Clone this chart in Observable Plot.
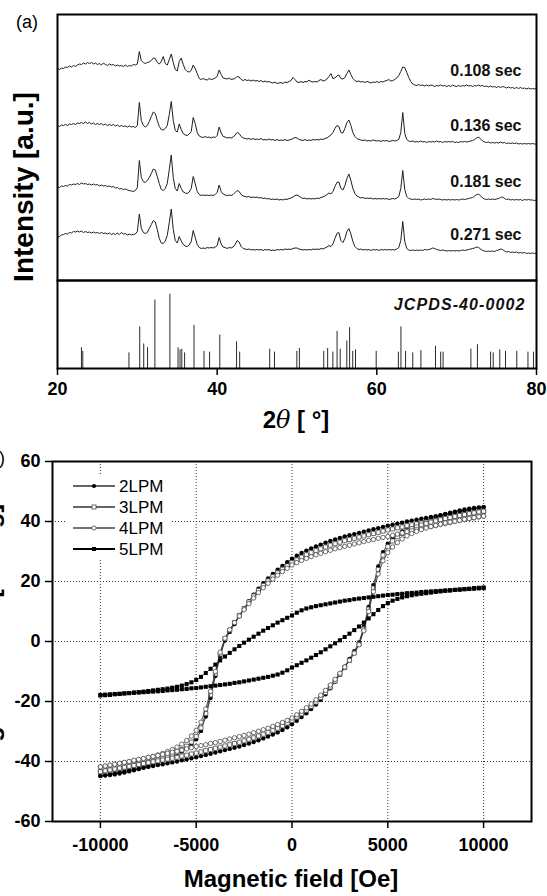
<!DOCTYPE html>
<html><head><meta charset="utf-8">
<script src="https://cdn.jsdelivr.net/npm/d3@7"></script>
<script src="https://cdn.jsdelivr.net/npm/@observablehq/plot@0.6"></script>
<style>
body{margin:0;background:#fff;}
#fig{position:relative;width:547px;height:896px;overflow:hidden;background:#fff;}
</style></head><body><div id="fig"></div>
<script>
// ---------- Panel (a): XRD ----------
const twoTheta = [
20,20.25,20.5,20.75,21,21.25,21.5,21.75,22,22.25,22.5,22.75,23,23.25,23.5,23.75,
24,24.25,24.5,24.75,25,25.25,25.5,25.75,26,26.25,26.5,26.75,27,27.25,27.5,27.75,
28,28.25,28.5,28.75,29,29.25,29.5,29.75,30,30.25,30.5,30.75,31,31.25,31.5,31.75,
32,32.25,32.5,32.75,33,33.25,33.5,33.75,34,34.25,34.5,34.75,35,35.25,35.5,35.75,
36,36.25,36.5,36.75,37,37.25,37.5,37.75,38,38.25,38.5,38.75,39,39.25,39.5,39.75,
40,40.25,40.5,40.75,41,41.25,41.5,41.75,42,42.25,42.5,42.75,43,43.25,43.5,43.75,
44,44.25,44.5,44.75,45,45.25,45.5,45.75,46,46.25,46.5,46.75,47,47.25,47.5,47.75,
48,48.25,48.5,48.75,49,49.25,49.5,49.75,50,50.25,50.5,50.75,51,51.25,51.5,51.75,
52,52.25,52.5,52.75,53,53.25,53.5,53.75,54,54.25,54.5,54.75,55,55.25,55.5,55.75,
56,56.25,56.5,56.75,57,57.25,57.5,57.75,58,58.25,58.5,58.75,59,59.25,59.5,59.75,
60,60.25,60.5,60.75,61,61.25,61.5,61.75,62,62.25,62.5,62.75,63,63.25,63.5,63.75,
64,64.25,64.5,64.75,65,65.25,65.5,65.75,66,66.25,66.5,66.75,67,67.25,67.5,67.75,
68,68.25,68.5,68.75,69,69.25,69.5,69.75,70,70.25,70.5,70.75,71,71.25,71.5,71.75,
72,72.25,72.5,72.75,73,73.25,73.5,73.75,74,74.25,74.5,74.75,75,75.25,75.5,75.75,
76,76.25,76.5,76.75,77,77.25,77.5,77.75,78,78.25,78.5,78.75,79,79.25,79.5,79.75,
80];

const xrd0108 = [
27,26,27.5,27,28.5,28,29.5,28.5, 30,29,30.5,31.5,31,32.5,31.5,33,
32,33,31.5,32.5,31,32,30.5,32.5, 31,30,31.5,30.5,31,29.5,30.5,29.5,
30,29,30.5,29,30,29.5,31,30.5, 31.5,44,35,33,32,33,33.5,35,
37.5,37,33,31.5,34,39,32,30.5, 36,41.5,33,26,24.5,34,37.5,31,
26,24,23.5,25,30.5,27,22,17, 16,17,16,15.5,17,16,16.5,17.5,
19,25.5,21,17.5,17,16.5,17.5,16, 16.5,17,19,18.5,16,15,16,15,
15.5,14.5,15.5,14.5,15,14,15,13.5, 14.5,13.5,14,13,12.5,13.5,12,12.5,
13,12,13.5,13,14,15,18,16, 13.5,13,14,13,14,13.5,15.5,14,
13.5,14,13.5,15,16,14.5,15,16.5, 19,22,17,17.5,19.5,20.5,17,16.5,
18,22,25.5,21,17,15,14,14.5, 13.5,14,13,14,13.5,12.5,13.5,13,
14,13,14,13.5,14.5,15,16,14.5, 15,16,17.5,20,24,28.5,28,23,
18,14,11.5,10.5,10,11,10,10.5, 9.5,10.5,9.5,10.5,10,9,10,9.5,
10.5,9.5,10,9,10,9,10.5,9.5, 9,10,9,10,9.5,10.5,9.5,10,
9,10,9.5,10.5,9.5,10,9,9.5, 8.5,9.5,8.5,9,8,9,8,9,
8.5,7.5,8.5,7.5,8,7,8,7, 8,7,7.5,6.5,7.5,6.5,7,6.5,
7];
const xrd0136 = [
25,24,25.5,25,26,25,26.5,26, 27,26,27.5,27,28,27,28.5,27,
28,26.5,27.5,26,27,26,27,25.5, 26.5,25,26,25,26,24.5,25.5,24,
25,24,24.5,23.5,24.5,23.5,24,23, 25,48,30,25,23.5,25,29,34,
38.5,37,30,24,21,20.5,22,25, 36,49,30,20,18.5,26.5,21,17,
15.5,15,16.5,19,33,27,18,14.5, 13.5,13,14,13,13.5,12.5,13.5,13,
15,23.5,17.5,14,13.5,12.5,13,12.5, 13.5,15.5,18,17,14,12.5,12,11.5,
12,11,12,11,11.5,11,12,10.5, 11,10.5,11.5,10.5,11,10,11,10,
10.5,10,11,10,10.5,11,12,13, 12.5,11,10.5,10,11,10,10.5,10,
11,10.5,11,10.5,11.5,11,12,12.5, 14,15.5,18,22,25,24,18,17.5,
22,28,30.5,25,18,14,12,11, 10.5,10,10.5,9.5,10,9.5,10.5,10,
9.5,10,9,10,9.5,10,9,9.5, 10,9.5,10,11,18,38,17,11,
9.5,9,9.5,8.5,9,8.5,9.5,8.5, 9,8,9,8.5,9,8.5,9.5,8.5,
9,8,9,8.5,9,8.5,9,8, 8.5,8,9,8.5,9,8.5,9,9.5,
10,11,12.5,13.5,11.5,9.5,8.5,8, 8.5,7.5,8,7.5,8,7.5,8.5,7.5,
8,7,7.5,7,7.5,7,7.5,6.5, 7,6.5,7,6.5,7,6.5,7,6.5,
6.5];
const xrd0181 = [
18.5,18,19.5,19,20,19.5,21,20.5, 21.5,21,22,21,22.5,21.5,22,21,
21.5,20.5,21.5,20.5,21,19.5,20.5,19.5, 20,19,19.5,18.5,19,17.5,18,16.5,
17,16,16.5,15.5,15,14.5,14,15, 18,45,28,24,23,25,28,32,
36.5,35.5,29,22,16,15,17,22, 36,50.5,28,17,14.5,22,17,13.5,
12.5,12,13.5,17,29,22,14,11, 10,10.5,10,10.5,10,10.5,10,11,
13,20.5,14,11.5,10.5,10,10.5,10, 11,13,15,14,11,9.5,9,8.5,
9,8,8.5,8,8.5,7.5,8,7, 7.5,6.5,7,6,6.5,6,6.5,5.5,
6,5.5,6.5,6,7,7.5,8.5,10, 10.5,9.5,8,7,7.5,6.5,7,6.5,
7,6.5,7.5,7,8,8.5,9.5,11, 12.5,11.5,14,19,23,23.5,17,15.5,
20,27,31.5,25,17,12,9.5,8.5, 7.5,8,7,7.5,7,7.5,6.5,7,
6.5,7,6.5,7,6.5,7,6,6.5, 7,6.5,7.5,9,17,35,16,9,
7,6.5,6,6.5,6,6.5,5.5,6, 6.5,6,6.5,6,7,6.5,6,6.5,
6,5.5,6,5.5,6,5.5,6,5.5, 6,5.5,6,6.5,6,6.5,7,7.5,
8,9.5,11,11.5,9.5,7.5,6.5,6, 6.5,6,6.5,6,6.5,7,8,8.5,
7,6,6.5,5.5,6,5.5,6,5.5, 6,5,6,5.5,6,5.5,5.5,5,
5.5];
const xrd0271 = [
22.5,23,24.5,25,26,25.5,27,26.5, 28,27.5,28.5,27.5,28.5,27,28,27,
27.5,26.5,27.5,26.5,27,26,27,26, 26.5,25.5,26.5,25,26,25,26.5,25,
27,25.5,26,24.5,25.5,24.5,25,25.5, 28,45.5,31,27,26,27,31,35,
39,37.5,30,21,16.5,16,18.5,24, 37,50.5,30,19,16.5,23,18.5,15,
13.5,13,14.5,18,29,22,15,12, 11,11.5,11,12,11.5,12,11.5,12.5,
14,22,15.5,12.5,12,11,12,11.5, 12.5,15,19,17.5,13,11,10.5,10,
10.5,9.5,10,9.5,10,9.5,10,9, 10,9.5,10,9,9.5,9,10,9.5,
10,9.5,10.5,10,10.5,10,11,11.5, 11.5,10.5,10,9.5,10,9.5,10,9.5,
10.5,10,10.5,10,11,10.5,11.5,12.5, 14,13,15.5,21,26,27,19,17,
21,28,31,25.5,18,13,11,10, 10.5,9.5,10,9.5,10,9,10,9.5,
10,9,10,9.5,10,9.5,10,9.5, 10,9.5,10.5,12,19,38,18,11,
9.5,9,9.5,9,9.5,9,9.5,9, 10,9.5,10,10.5,11.5,11,10,9.5,
9,9.5,9,8.5,9,8.5,9,8.5, 9,8.5,9,9.5,9,9.5,10,10.5,
11,11.5,12.5,12,10.5,9,8.5,8, 8.5,8,8.5,8,9,9.5,10.5,10,
8.5,7.5,8,7,7.5,7,7.5,6.5, 7,6.5,7,6,6.5,6,6.5,6,
6.5];
const sampleLabels = ["0.108 sec", "0.136 sec", "0.181 sec", "0.271 sec"];

const jcpdsTheta = [23.0,23.17,28.95,30.3,30.8,31.28,32.2,34.08,35.1,35.35,
35.57,35.92,37.1,38.35,39.05,40.33,42.43,42.82,46.58,47.18,
49.98,50.3,53.35,53.84,54.49,55.02,55.41,56.24,56.59,56.98,
57.33,59.92,62.7,63.02,63.6,64.5,65.52,67.35,68.0,68.3,
71.78,72.6,74.25,74.58,75.4,76.12,77.53,78.93,79.62];
const jcpdsIntensity = [28,23,21,56,33,28,92,100,28,25,
26,21,58,23,22,45,36,22,26,22,
23,27,23,27,22,50,26,37,55,23,
25,23,22,56,23,21,24,30,22,22,
26,32,22,21,25,23,23,22,22];
const jcpdsLabel = "JCPDS-40-0002";
const xrdTicks = [20, 40, 60, 80];

// ---------- Panel (b): M-H loops ----------
const fieldOe = [
-10000,-9750,-9500,-9250,-9000,-8750,-8500,-8250,
-8000,-7750,-7500,-7250,-7000,-6750,-6500,-6250,
-6000,-5750,-5500,-5250,-5000,-4750,-4500,-4250,
-4000,-3750,-3500,-3250,-3000,-2750,-2500,-2250,
-2000,-1750,-1500,-1250,-1000,-750,-500,-250,
0,250,500,750,1000,1250,1500,1750,
2000,2250,2500,2750,3000,3250,3500,3750,
4000,4250,4500,4750,5000,5250,5500,5750,
6000,6250,6500,6750,7000,7250,7500,7750,
8000,8250,8500,8750,9000,9250,9500,9750,
10000];
// "down" = branch measured while the field sweeps down from +10 kOe (upper branch);
// "up" = branch measured while the field sweeps up from -10 kOe (lower branch). Both in fieldOe order.
const m2LPMdown = [-44.8,-44.7,-44.5,-44.3,-44.0,-43.7,-43.3,-42.9,-42.5,-42.0,-41.5,-41.0,-40.4,-39.8,-39.1,-38.4,-37.6,-36.7,-35.7,-34.4,-32.6,-29.8,-25.0,-18.8,-11.5,-5.0,0.3,3.2,5.8,8.4,11.0,13.4,15.6,17.6,19.4,21.0,22.5,23.9,25.2,26.4,27.6,28.6,29.5,30.3,31.0,31.7,32.3,32.9,33.5,34.0,34.5,35.0,35.4,35.8,36.2,36.6,37.0,37.4,37.8,38.2,38.6,38.9,39.3,39.6,40.0,40.3,40.6,40.9,41.2,41.5,41.8,42.1,42.4,42.7,43.0,43.3,43.6,43.9,44.2,44.5,44.8];
const m2LPMup = [-44.8,-44.5,-44.2,-43.9,-43.6,-43.3,-43.0,-42.7,-42.4,-42.1,-41.8,-41.5,-41.2,-40.9,-40.6,-40.3,-40.0,-39.6,-39.3,-38.9,-38.6,-38.2,-37.8,-37.4,-37.0,-36.6,-36.2,-35.8,-35.4,-35.0,-34.5,-34.0,-33.5,-32.9,-32.3,-31.7,-31.0,-30.3,-29.5,-28.6,-27.6,-26.4,-25.2,-23.9,-22.5,-21.0,-19.4,-17.6,-15.6,-13.4,-11.0,-8.4,-5.8,-3.2,-0.3,5.0,11.5,18.8,25.0,29.8,32.6,34.4,35.7,36.7,37.6,38.4,39.1,39.8,40.4,41.0,41.5,42.0,42.5,42.9,43.3,43.7,44.0,44.3,44.5,44.7,44.8];
const m3LPMdown = [-43.4,-43.2,-42.9,-42.6,-42.3,-42.0,-41.7,-41.3,-41.0,-40.6,-40.2,-39.8,-39.3,-38.8,-38.2,-37.6,-36.9,-36.0,-34.9,-33.5,-31.6,-28.8,-24.0,-17.8,-10.8,-4.2,0.9,3.8,6.3,8.7,11.0,13.2,15.2,17.0,18.7,20.2,21.6,22.9,24.1,25.2,26.3,27.2,28.1,28.9,29.6,30.3,30.9,31.5,32.1,32.6,33.1,33.6,34.0,34.4,34.8,35.2,35.6,36.0,36.4,36.8,37.2,37.5,37.9,38.2,38.6,38.9,39.2,39.5,39.8,40.1,40.4,40.7,41.0,41.3,41.6,41.9,42.2,42.5,42.8,43.1,43.4];
const m3LPMup = [-43.4,-43.1,-42.8,-42.5,-42.2,-41.9,-41.6,-41.3,-41.0,-40.7,-40.4,-40.1,-39.8,-39.5,-39.2,-38.9,-38.6,-38.2,-37.9,-37.5,-37.2,-36.8,-36.4,-36.0,-35.6,-35.2,-34.8,-34.4,-34.0,-33.6,-33.1,-32.6,-32.1,-31.5,-30.9,-30.3,-29.6,-28.9,-28.1,-27.2,-26.3,-25.2,-24.1,-22.9,-21.6,-20.2,-18.7,-17.0,-15.2,-13.2,-11.0,-8.7,-6.3,-3.8,-0.9,4.2,10.8,17.8,24.0,28.8,31.6,33.5,34.9,36.0,36.9,37.6,38.2,38.8,39.3,39.8,40.2,40.6,41.0,41.3,41.7,42.0,42.3,42.6,42.9,43.2,43.4];
const m4LPMdown = [-41.8,-41.6,-41.3,-41.0,-40.7,-40.4,-40.1,-39.8,-39.5,-39.1,-38.7,-38.3,-37.8,-37.3,-36.7,-36.0,-35.2,-34.2,-33.0,-31.5,-29.6,-26.9,-22.5,-16.6,-10.0,-3.6,1.1,3.9,6.3,8.5,10.6,12.6,14.5,16.3,17.9,19.4,20.8,22.1,23.3,24.4,25.5,26.3,27.0,27.7,28.3,28.9,29.4,29.9,30.4,30.9,31.3,31.7,32.1,32.5,32.9,33.3,33.7,34.0,34.4,34.7,35.0,35.4,35.8,36.2,36.6,36.9,37.3,37.6,38.0,38.3,38.6,39.0,39.3,39.6,40.0,40.3,40.6,40.9,41.2,41.5,41.8];
const m4LPMup = [-41.8,-41.5,-41.2,-40.9,-40.6,-40.3,-40.0,-39.6,-39.3,-39.0,-38.6,-38.3,-38.0,-37.6,-37.3,-36.9,-36.6,-36.2,-35.8,-35.4,-35.0,-34.7,-34.4,-34.0,-33.7,-33.3,-32.9,-32.5,-32.1,-31.7,-31.3,-30.9,-30.4,-29.9,-29.4,-28.9,-28.3,-27.7,-27.0,-26.3,-25.5,-24.4,-23.3,-22.1,-20.8,-19.4,-17.9,-16.3,-14.5,-12.6,-10.6,-8.5,-6.3,-3.9,-1.1,3.6,10.0,16.6,22.5,26.9,29.6,31.5,33.0,34.2,35.2,36.0,36.7,37.3,37.8,38.3,38.7,39.1,39.5,39.8,40.1,40.4,40.7,41.0,41.3,41.6,41.8];
const m5LPMdown = [-18.0,-17.9,-17.8,-17.6,-17.5,-17.3,-17.2,-17.0,-16.9,-16.7,-16.5,-16.3,-16.1,-15.9,-15.7,-15.4,-15.1,-14.7,-14.2,-13.6,-12.8,-11.8,-10.5,-9.1,-7.7,-6.3,-5.0,-3.8,-2.6,-1.5,-0.4,0.6,1.6,2.6,3.6,4.5,5.4,6.3,7.1,7.9,8.7,9.6,10.4,11.0,11.4,11.8,12.1,12.4,12.7,13.0,13.3,13.6,13.8,14.1,14.3,14.5,14.7,14.9,15.1,15.3,15.5,15.6,15.8,15.9,16.1,16.2,16.3,16.5,16.6,16.7,16.8,16.9,17.0,17.1,17.2,17.3,17.4,17.5,17.6,17.7,17.8];
const m5LPMup = [-17.8,-17.7,-17.6,-17.5,-17.4,-17.3,-17.2,-17.1,-17.0,-16.9,-16.8,-16.7,-16.6,-16.5,-16.3,-16.2,-16.1,-15.9,-15.8,-15.6,-15.5,-15.3,-15.1,-14.9,-14.7,-14.5,-14.3,-14.1,-13.8,-13.6,-13.3,-13.0,-12.7,-12.4,-12.1,-11.8,-11.4,-11.0,-10.4,-9.6,-8.7,-7.9,-7.1,-6.3,-5.4,-4.5,-3.6,-2.6,-1.6,-0.6,0.4,1.5,2.6,3.8,5.0,6.3,7.7,9.1,10.5,11.8,12.8,13.6,14.2,14.7,15.1,15.4,15.7,15.9,16.1,16.3,16.5,16.7,16.9,17.0,17.2,17.3,17.5,17.6,17.8,17.9,18.0];
const seriesNames = ["2LPM", "3LPM", "4LPM", "5LPM"];
const fieldTicks = [-10000, -5000, 0, 5000, 10000];
const momentTicks = [-60, -40, -20, 0, 20, 40, 60];

// ---------- checks ----------
[xrd0108, xrd0136, xrd0181, xrd0271].forEach((a, i) => { if (a.length !== twoTheta.length) throw new Error("xrd length " + i + ": " + a.length); });
[m2LPMdown, m2LPMup, m3LPMdown, m3LPMup, m4LPMdown, m4LPMup, m5LPMdown, m5LPMup].forEach((a, i) => { if (a.length !== fieldOe.length) throw new Error("loop length " + i + ": " + a.length); });
if (jcpdsTheta.length !== jcpdsIntensity.length) throw new Error("jcpds length");

// ---------- drawing ----------
const fig = document.getElementById("fig");
const FONT = '"Liberation Sans", Arial, Helvetica, sans-serif';
const svgStyle = {background: "transparent", overflow: "visible", fontFamily: FONT, fontWeight: "bold", fontSize: "18px"};
function place(el, top) {
  el.style.position = "absolute"; el.style.left = "0px"; el.style.top = top + "px";
  fig.appendChild(el);
}

// (a) top: stacked patterns
const traces = [xrd0108, xrd0136, xrd0181, xrd0271];
const traceOffset = [185, 130, 75, 21];
const labelLift = 18;
const traceRows = traces.map((vals, k) => vals.map((v, i) => ({theta: twoTheta[i], y: v + traceOffset[k]})));
const labelRows = sampleLabels.map((t, k) => ({text: t, y: traces[k][traces[k].length - 1] + traceOffset[k] + labelLift}));

const a1 = Plot.plot({
  width: 547, height: 282, marginLeft: 57, marginRight: 11, marginTop: 14, marginBottom: 2,
  x: {domain: [20, 80], axis: null}, y: {domain: [0, 266], axis: null},
  style: svgStyle,
  marks: [
    ...traceRows.map(rows => Plot.line(rows, {x: "theta", y: "y", stroke: "#1e1e1e", strokeWidth: 1})),
    Plot.text(labelRows, {y: "y", text: "text", frameAnchor: "right", dx: -15, textAnchor: "end", fontSize: 16, fontWeight: "bold", fill: "#111"}),
    Plot.frame({stroke: "#000", strokeWidth: 2})
  ]
});
place(a1, 0);

// (a) bottom: reference pattern
const jcpdsRows = jcpdsTheta.map((t, i) => ({theta: t, I: jcpdsIntensity[i]}));
const a2 = Plot.plot({
  width: 547, height: 160, marginLeft: 57, marginRight: 11, marginTop: 2, marginBottom: 70,
  x: {domain: [20, 80], axis: null}, y: {domain: [0, 118.4], axis: null},
  style: svgStyle,
  marks: [
    Plot.ruleX(jcpdsRows, {x: "theta", y1: 0, y2: "I", stroke: "#2a2a2a", strokeWidth: 1}),
    Plot.text([jcpdsLabel], {text: d => d, frameAnchor: "top-right", dx: -11, dy: 18, textAnchor: "end", fontSize: 16, fontWeight: "bold", fontStyle: "italic", fill: "#111"}),
    Plot.frame({stroke: "#000", strokeWidth: 2}),
    Plot.axisX({ticks: xrdTicks, tickSize: 7, tickPadding: 7, tickFormat: d => String(d), fontSize: 18, label: null, strokeWidth: 1.5})
  ]
});
a2.querySelectorAll("text").forEach(t => { if (t.textContent === jcpdsLabel) t.setAttribute("letter-spacing", "1.1"); });
place(a2, 278);

// (b) hysteresis loops
const branches = {"2LPM": [m2LPMdown, m2LPMup], "3LPM": [m3LPMdown, m3LPMup], "4LPM": [m4LPMdown, m4LPMup], "5LPM": [m5LPMdown, m5LPMup]};
const look = {
  "2LPM": {symbol: "circle", r: 2.2, fill: "#000", stroke: "none", line: "#333", lw: 1.5},
  "3LPM": {symbol: "square", r: 2.3, fill: "#fff", stroke: "#4a4a4a", line: "#666", lw: 2},
  "4LPM": {symbol: "circle", r: 2.2, fill: "#fff", stroke: "#4a4a4a", line: "#444", lw: 1.3},
  "5LPM": {symbol: "square", r: 2.3, fill: "#000", stroke: "none", line: "#000", lw: 2}
};
function loopRows(name) {
  const [down, up] = branches[name];
  const rows = [];
  for (let i = fieldOe.length - 1; i >= 0; i--) rows.push({H: fieldOe[i], M: down[i]});
  for (let i = 0; i < fieldOe.length; i++) rows.push({H: fieldOe[i], M: up[i]});
  return rows;
}
const loopMarks = [];
seriesNames.forEach(name => {
  const rows = loopRows(name), s = look[name];
  loopMarks.push(Plot.line(rows, {x: "H", y: "M", stroke: "#222", strokeWidth: 0.8}));
  loopMarks.push(Plot.dot(rows, {x: "H", y: "M", symbol: s.symbol, r: s.r, fill: s.fill, stroke: s.stroke, strokeWidth: 0.8}));
});
const gridStyle = {stroke: "#333", strokeOpacity: 1, strokeWidth: 1, strokeDasharray: "1,2"};
const b = Plot.plot({
  width: 547, height: 456, marginLeft: 52, marginRight: 16, marginTop: 21, marginBottom: 75,
  x: {domain: [-12500, 12500], axis: null}, y: {domain: [-60, 60], axis: null},
  style: svgStyle,
  marks: [
    Plot.gridX(fieldTicks, gridStyle),
    Plot.gridY(momentTicks.filter(v => Math.abs(v) < 60), gridStyle),
    ...loopMarks,
    Plot.frame({stroke: "#000", strokeWidth: 2}),
    Plot.axisX({ticks: fieldTicks, tickSize: 7, tickPadding: 10, tickFormat: d => String(d), fontSize: 18, label: null, strokeWidth: 1.5}),
    Plot.axisY({ticks: momentTicks, tickSize: 7, tickPadding: 5, tickFormat: d => String(d), fontSize: 18, label: null, strokeWidth: 1.5})
  ]
});
place(b, 440);

// overlay: panel letters, axis titles, legend
const ov = d3.create("svg").attr("width", 547).attr("height", 896).attr("font-family", FONT).attr("fill", "#000");
ov.append("text").attr("x", 16).attr("y", 28).attr("font-size", 18).text("(a)");
ov.append("text").attr("transform", "translate(33,187) rotate(-90)").attr("text-anchor", "middle")
  .attr("font-size", 28).attr("font-weight", "bold").text("Intensity [a.u.]");
const xl = ov.append("text").attr("x", 296).attr("y", 428).attr("text-anchor", "middle").attr("font-size", 24).attr("font-weight", "bold");
xl.append("tspan").text("2");
xl.append("tspan").attr("font-style", "italic").attr("font-weight", "normal").attr("font-family", '"DejaVu Serif", serif').text("θ");
xl.append("tspan").text(" [ °]");
// panel (b) letter and y title sit mostly beyond the left edge, as in the source figure
ov.append("text").attr("x", 5).attr("y", 464).attr("text-anchor", "end").attr("font-size", 18).text("(b)");
ov.append("text").attr("transform", "translate(-1,641) rotate(-90)").attr("text-anchor", "middle")
  .attr("font-size", 26).attr("font-weight", "bold").text("Magnetization [emu/g]");
ov.append("text").attr("x", 291).attr("y", 887).attr("text-anchor", "middle").attr("font-size", 24).attr("font-weight", "bold").text("Magnetic field [Oe]");

const lg = ov.append("g");
lg.append("rect").attr("x", 66).attr("y", 474).attr("width", 104).attr("height", 86).attr("fill", "#fff");
seriesNames.forEach((name, i) => {
  const s = look[name], y = 486 + i * 21;
  lg.append("line").attr("x1", 73).attr("x2", 115).attr("y1", y).attr("y2", y).attr("stroke", s.line).attr("stroke-width", s.lw);
  if (s.symbol === "circle") {
    lg.append("circle").attr("cx", 94).attr("cy", y).attr("r", 2.1).attr("fill", s.fill)
      .attr("stroke", s.stroke === "none" ? null : s.stroke).attr("stroke-width", 0.8);
  } else {
    lg.append("rect").attr("x", 92).attr("y", y - 2).attr("width", 4).attr("height", 4).attr("fill", s.fill)
      .attr("stroke", s.stroke === "none" ? null : s.stroke).attr("stroke-width", 0.8);
  }
  lg.append("text").attr("x", 119).attr("y", y).attr("dy", "0.35em").attr("font-size", 17).text(name);
});
place(ov.node(), 0);
</script></body></html>
